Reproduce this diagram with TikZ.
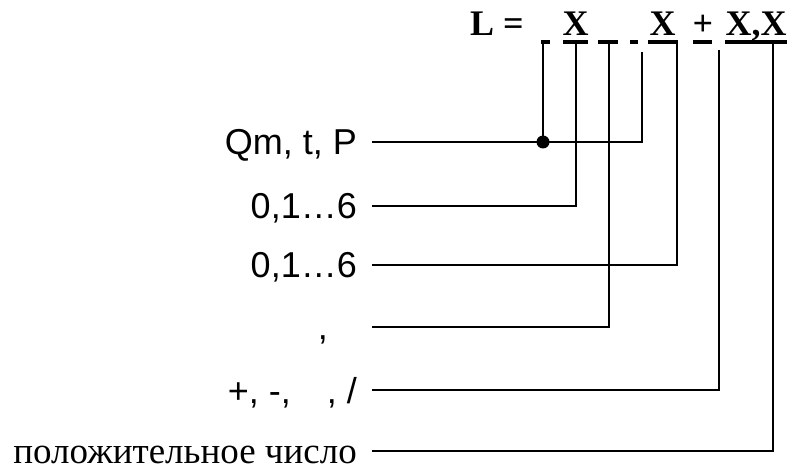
\documentclass[tikz,border=0pt]{standalone}
\usepackage{fontspec}
\setmainfont{Liberation Serif}
\newfontfamily\arialfont{Liberation Sans}
\usetikzlibrary{positioning}
\tikzset{
 code/.style={line cap=butt,line join=miter,font=\fontsize{36}{43}\selectfont},
 lab/.style={anchor=east,inner xsep=15pt,inner ysep=0pt,text height=26pt,text depth=0pt},
 labsans/.style={lab,font=\fontsize{36}{43}\selectfont\arialfont},
 labserif/.style={lab,font=\fontsize{37}{43}\selectfont},
 head/.style={font=\fontsize{36}{43}\selectfont\bfseries,inner sep=0pt,anchor=base},
 wire/.style={draw=black,line width=2.6pt},
 uline/.style={draw=black,line width=4pt},
 joint/.style={circle,fill=black,inner sep=0pt,minimum size=13pt}
}
\begin{document}
\begin{tikzpicture}[code,x=1pt,y=-1pt]
 \useasboundingbox (0,0) rectangle (793,470);
 % header formula
 \node[head,anchor=base west] (L) at (470,36) {L =};
 \node[head] (x1) at (575.5,36) {X};
 \node[head] (x2) at (662.5,36) {X};
 \node[head] (pm) at (703,36) {+};
 \node[head] (x34) at (756,36) {X,X};
 \foreach \a/\b in {541/550,563/588,598/618,630/638,648/678,693/712,725/787}
   \draw[uline] (\a,42) -- (\b,42);
 % tops of the branches
 \coordinate (tq) at (543,40); \coordinate (tt) at (642,52);
 \coordinate (ta) at (576,40); \coordinate (tb) at (677,40);
 \coordinate (tc) at (609,40); \coordinate (ts) at (719,50);
 \coordinate (tn) at (773,40);
 % labels
 \node[labsans] (qm) at (372,142) {Qm, t, P};
 \node[labsans] (da) at (372,206) {0,1…6};
 \node[labsans] (db) at (372,265) {0,1…6};
 \node[labsans,inner xsep=44pt] (cm) at (372,327) {,};
 \node[labsans] (sg) at (372,390) {+, -,\quad, /};
 \node[labserif] (pn) at (372,451) {положительное число};
 % connectors
 \draw[wire] (qm.east) -| (tt);
 \node[joint] (jn) at (543,142) {};
 \draw[wire] (jn.center) -- (tq);
 \draw[wire] (da.east) -| (ta);
 \draw[wire] (db.east) -| (tb);
 \draw[wire] (cm.east) -| (tc);
 \draw[wire] (sg.east) -| (ts);
 \draw[wire] (pn.east) -| (tn);
\end{tikzpicture}
\end{document}
